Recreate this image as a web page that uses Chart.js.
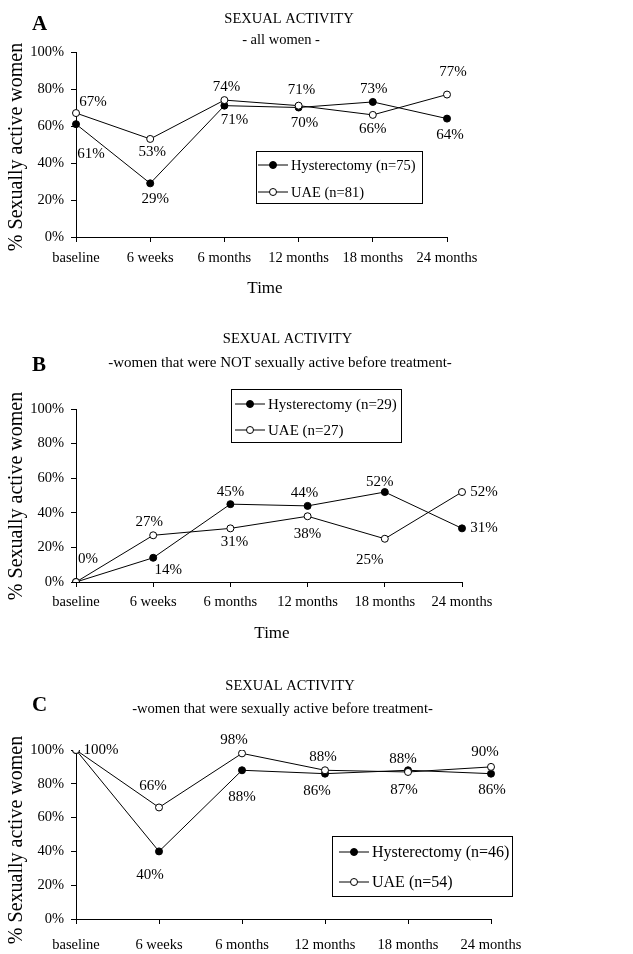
<!DOCTYPE html>
<html>
<head>
<meta charset="utf-8">
<script src="https://cdn.jsdelivr.net/npm/chart.js@4.4.0/dist/chart.umd.min.js"></script>
<style>
  html, body { margin: 0; padding: 0; background: #fff; }
  #page { position: relative; width: 633px; height: 954px; overflow: hidden; }
  canvas { position: absolute; left: 0; }
</style>
</head>
<body>
<div id="page">
  <canvas id="chartA" width="633" height="310" style="top:0px"></canvas>
  <canvas id="chartB" width="633" height="330" style="top:310px"></canvas>
  <canvas id="chartC" width="633" height="314" style="top:640px"></canvas>
</div>
<script>
// data
const timepoints = ['baseline', '6 weeks', '6 months', '12 months', '18 months', '24 months'];
const yTicks = [0, 20, 40, 60, 80, 100];

// A - all women
const hystAll = [61, 29, 71, 70, 73, 64];
const uaeAll = [67, 53, 74, 71, 66, 77];
const legendA = ['Hysterectomy (n=75)', 'UAE (n=81)'];

// B - not sexually active before treatment
const hystNotActive = [0, 14, 45, 44, 52, 31];
const uaeNotActive = [0, 27, 31, 38, 25, 52];
const legendB = ['Hysterectomy (n=29)', 'UAE (n=27)'];

// C - sexually active before treatment
const hystActive = [100, 40, 88, 86, 88, 86];
const uaeActive = [100, 66, 98, 88, 87, 90];
const legendC = ['Hysterectomy (n=46)', 'UAE (n=54)'];

const SERIF = '"Liberation Serif", "Times New Roman", serif';

// draws the titles, axis titles, value labels and the boxed legend
const decorPlugin = {
  id: 'decor',
  afterDraw(chart, args, o) {
    const ctx = chart.ctx;
    const area = chart.chartArea;
    ctx.save();
    ctx.fillStyle = '#000';
    ctx.strokeStyle = '#000';

    ctx.font = 'bold 21px ' + SERIF;
    ctx.textAlign = 'left';
    ctx.textBaseline = 'alphabetic';
    ctx.fillText(o.letter, 32, o.letterY);

    ctx.font = o.titleSize + 'px ' + SERIF;
    ctx.textAlign = 'center';
    ctx.fillText('SEXUAL ACTIVITY', o.titleX, o.titleY);
    ctx.font = o.subSize + 'px ' + SERIF;
    ctx.fillText(o.subtitle, o.subX, o.subY);

    if (o.timeY) {
      ctx.font = '17px ' + SERIF;
      ctx.fillText('Time', o.timeX, o.timeY);
    }

    ctx.save();
    ctx.translate(17, o.yTitleY);
    ctx.rotate(-Math.PI / 2);
    ctx.font = '20px ' + SERIF;
    ctx.textBaseline = 'middle';
    ctx.fillText('% Sexually active women', 0, 0);
    ctx.restore();

    // value labels
    ctx.font = '15px ' + SERIF;
    ctx.textAlign = 'center';
    ctx.textBaseline = 'middle';
    chart.data.datasets.forEach((ds, i) => {
      const meta = chart.getDatasetMeta(i);
      meta.data.forEach((pt, j) => {
        const off = o.labelOffsets[i][j];
        if (!off) return;
        ctx.fillText(ds.data[j] + '%', pt.x + off[0], pt.y + off[1]);
      });
    });

    // legend
    const lg = o.legend;
    ctx.fillStyle = '#fff';
    ctx.fillRect(lg.x, lg.y, lg.w, lg.h);
    ctx.lineWidth = 1;
    ctx.strokeRect(lg.x + 0.5, lg.y + 0.5, lg.w, lg.h);
    ctx.font = lg.size + 'px ' + SERIF;
    ctx.textAlign = 'left';
    ctx.textBaseline = 'middle';
    chart.data.datasets.forEach((ds, i) => {
      const y = lg.rowY[i];
      ctx.beginPath();
      ctx.moveTo(lg.lineX, y);
      ctx.lineTo(lg.lineX + 30, y);
      ctx.stroke();
      ctx.beginPath();
      ctx.arc(lg.lineX + 15, y, 3.5, 0, Math.PI * 2);
      ctx.fillStyle = ds.pointBackgroundColor;
      ctx.fill();
      ctx.stroke();
      ctx.fillStyle = '#000';
      ctx.fillText(ds.label, lg.lineX + 33, y + 1);
    });
    ctx.restore();
  }
};

function makeChart(id, hyst, uae, names, area, xPad, decor) {
  const canvas = document.getElementById(id);
  return new Chart(canvas, {
    type: 'line',
    data: {
      labels: timepoints,
      datasets: [
        {
          label: names[0], data: hyst, order: 1,
          borderColor: '#000', borderWidth: 1, tension: 0,
          pointRadius: 3.5, pointBackgroundColor: '#000', pointBorderColor: '#000', pointBorderWidth: 1
        },
        {
          label: names[1], data: uae, order: 0,
          borderColor: '#000', borderWidth: 1, tension: 0,
          pointRadius: 3.5, pointBackgroundColor: '#fff', pointBorderColor: '#000', pointBorderWidth: 1
        }
      ]
    },
    options: {
      responsive: false,
      animation: false,
      layout: { padding: { left: 0, top: area.top, right: canvas.width - area.right, bottom: 0 } },
      plugins: { legend: { display: false }, tooltip: { enabled: false }, decor: decor },
      scales: {
        x: {
          offset: false,
          grid: { display: true, drawOnChartArea: false, drawTicks: true, tickLength: 5, color: '#000' },
          border: { display: true, color: '#000', width: 1 },
          ticks: { color: '#000', padding: xPad, maxRotation: 0, autoSkip: false, font: { family: SERIF, size: 14.5 } },
          afterFit: (s) => { s.height = canvas.height - area.bottom; }
        },
        y: {
          min: 0, max: 100,
          afterBuildTicks: (s) => { s.ticks = yTicks.map(v => ({ value: v })); },
          grid: { display: true, drawOnChartArea: false, drawTicks: true, tickLength: 5, color: '#000' },
          border: { display: true, color: '#000', width: 1 },
          ticks: { color: '#000', padding: 7, font: { family: SERIF, size: 14.5 }, callback: (v) => v + '%' },
          afterFit: (s) => { s.width = area.left; }
        }
      }
    },
    plugins: [decorPlugin]
  });
}

makeChart('chartA', hystAll, uaeAll, legendA, { left: 76, right: 447, top: 52, bottom: 237 }, 7, {
  letter: 'A', letterY: 30,
  titleSize: 14.5, titleX: 289, titleY: 23,
  subtitle: '- all women -', subSize: 14.5, subX: 281, subY: 44,
  timeX: 265, timeY: 293, yTitleY: 147,
  labelOffsets: [
    [[15, 30], [5, 16], [10, 14], [6, 16], [1, -13], [3, 16]],
    [[17, -11], [2, 13], [2, -13], [3, -16], [0, 14], [6, -22]]
  ],
  legend: { x: 256, y: 151, w: 166, h: 52, size: 14.5, lineX: 258, rowY: [165, 192] }
});

makeChart('chartB', hystNotActive, uaeNotActive, legendB, { left: 76, right: 462, top: 99, bottom: 272 }, 6, {
  letter: 'B', letterY: 61,
  titleSize: 14.5, titleX: 287.5, titleY: 33,
  subtitle: '-women that were NOT sexually active before treatment-', subSize: 15, subX: 280, subY: 57,
  timeX: 272, timeY: 328, yTitleY: 186,
  labelOffsets: [
    [[12, -23], [15, 12], [0, -12], [-3, -13], [-5, -10], [22, 0]],
    [null, [-4, -13], [4, 14], [0, 18], [-15, 21], [22, 0]]
  ],
  legend: { x: 231, y: 79, w: 170, h: 53, size: 15, lineX: 235, rowY: [94, 120] }
});

makeChart('chartC', hystActive, uaeActive, legendC, { left: 76, right: 491, top: 110, bottom: 279 }, 12, {
  letter: 'C', letterY: 71,
  titleSize: 14.5, titleX: 290, titleY: 50,
  subtitle: '-women that were sexually active before treatment-', subSize: 14.6, subX: 282.5, subY: 73,
  timeY: 0, yTitleY: 200,
  labelOffsets: [
    [[25, 0], [-9, 24], [0, 27], [-8, 17], [-5, -11], [1, 16]],
    [null, [-6, -21], [-8, -13], [-2, -13], [-4, 18], [-6, -15]]
  ],
  legend: { x: 332, y: 196, w: 180, h: 60, size: 16, lineX: 339, rowY: [212, 242] }
});
</script>
</body>
</html>
